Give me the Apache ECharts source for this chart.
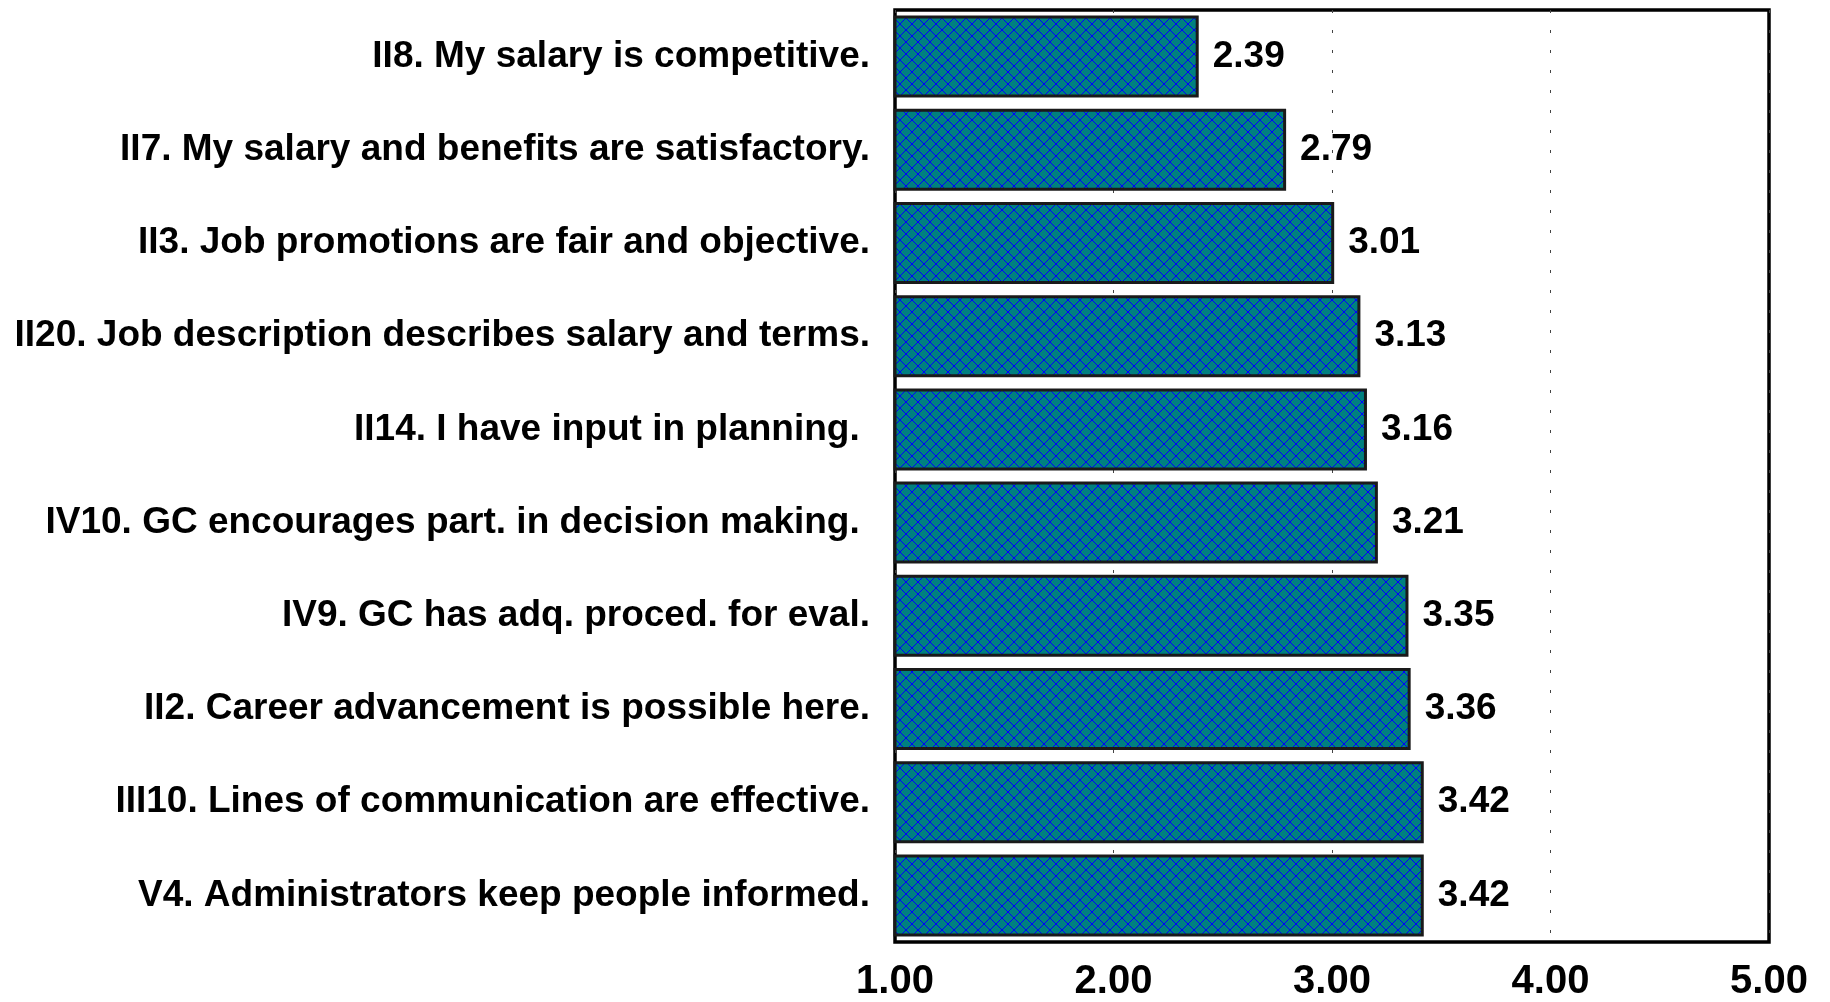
<!DOCTYPE html>
<html>
<head>
<meta charset="utf-8">
<script src="https://cdn.jsdelivr.net/npm/echarts@6/dist/echarts.min.js"></script>
<style>
  html, body { margin: 0; padding: 0; background: #ffffff; }
  #chart { width: 1830px; height: 1002px; }
</style>
</head>
<body>
<div id="chart"></div>
<script>
// Survey items, listed top to bottom
const categories = [
  'II8. My salary is competitive.',
  'II7. My salary and benefits are satisfactory.',
  'II3. Job promotions are fair and objective.',
  'II20. Job description describes salary and terms.',
  'II14. I have input in planning. ',
  'IV10. GC encourages part. in decision making. ',
  'IV9. GC has adq. proced. for eval.',
  'II2. Career advancement is possible here.',
  'III10. Lines of communication are effective.',
  'V4. Administrators keep people informed.'
];

// Mean rating per item
const meanScores = [2.39, 2.79, 3.01, 3.13, 3.16, 3.21, 3.35, 3.36, 3.42, 3.42];

// Rating scale ticks
const scaleTicks = [1, 2, 3, 4, 5];

// Teal fill with a crisp blue diagonal crosshatch (pixel-drawn tile)
function crosshatch() {
  const s = 12;
  const c = document.createElement('canvas');
  c.width = s; c.height = s;
  const g = c.getContext('2d');
  g.fillStyle = '#008080';
  g.fillRect(0, 0, s, s);
  g.fillStyle = '#0000ff';
  for (let i = 0; i < s; i++) {
    g.fillRect(i, i, 1, 1);
    g.fillRect(s - 1 - i, i, 1, 1);
  }
  return c;
}

const chart = echarts.init(document.getElementById('chart'), null, { renderer: 'canvas' });
const FONT = '"Liberation Sans", Arial, Helvetica, sans-serif';

chart.setOption({
  backgroundColor: '#ffffff',
  animation: false,
  grid: {
    left: 895, right: 61, top: 10, bottom: 57,
    show: true,
    borderColor: '#000000',
    borderWidth: 3.5,
    containLabel: false
  },
  xAxis: {
    type: 'value',
    min: scaleTicks[0],
    max: scaleTicks[scaleTicks.length - 1],
    interval: 1,
    axisLine: { show: false },
    axisTick: { show: false },
    splitLine: {
      show: true,
      lineStyle: { color: '#444444', width: 1, type: [3, 17] }
    },
    axisLabel: {
      margin: 20,
      fontFamily: FONT,
      fontWeight: 'bold',
      fontSize: 40,
      color: '#000000',
      formatter: v => v.toFixed(2)
    }
  },
  yAxis: {
    type: 'category',
    inverse: true,
    data: categories,
    axisLine: { show: false },
    axisTick: { show: false },
    splitLine: { show: false },
    axisLabel: {
      margin: 25,
      fontFamily: FONT,
      fontWeight: 'bold',
      fontSize: 37,
      color: '#000000'
    }
  },
  series: [{
    type: 'bar',
    data: meanScores,
    barCategoryGap: '12%',
    itemStyle: {
      color: { image: crosshatch(), repeat: 'repeat' },
      borderColor: '#1a1a1a',
      borderWidth: 3
    },
    label: {
      show: true,
      position: 'right',
      distance: 14,
      fontFamily: FONT,
      fontWeight: 'bold',
      fontSize: 37,
      color: '#000000',
      formatter: p => p.value.toFixed(2)
    }
  }]
});
</script>
</body>
</html>
